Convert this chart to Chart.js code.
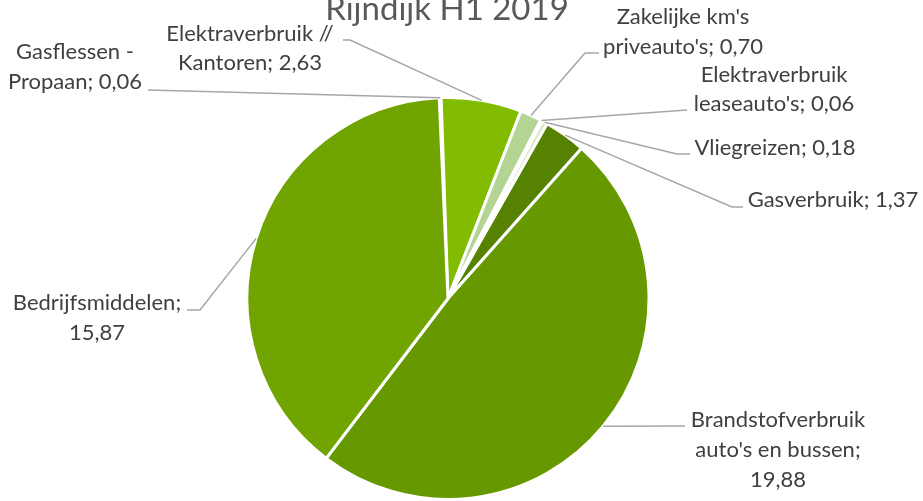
<!DOCTYPE html>
<html>
<head>
<meta charset="utf-8">
<script src="https://cdn.jsdelivr.net/npm/chart.js@4.4.1/dist/chart.umd.min.js"></script>
<style>
  html, body { margin: 0; padding: 0; background: #fff; }
  #wrap { width: 923px; height: 501px; }
</style>
</head>
<body>
<div id="wrap"><canvas id="myChart" width="923" height="501"></canvas></div>
<script>
// data
const categories = [
  'Gasflessen - Propaan',
  'Elektraverbruik // Kantoren',
  "Zakelijke km's priveauto's",
  "Elektraverbruik leaseauto's",
  'Vliegreizen',
  'Gasverbruik',
  "Brandstofverbruik auto's en bussen",
  'Bedrijfsmiddelen'
]
const values = [0.06, 2.63, 0.70, 0.06, 0.18, 1.37, 19.88, 15.87]
const chartTitle = 'Rijndijk H1 2019'

const colors = ['#4f7a00', '#82bc00', '#b4d494', '#c8e2ab', '#d7eac3', '#558200', '#669900', '#70a400']

// label layout: words per line, text centre x, line y's, line start and elbow
const labelLayout = [
  { words: [2, 2], cx: 75, ys: [52, 82], from: [148, 90], elbow: [148, 90] },
  { words: [2, 2], cx: 250, ys: [34, 63], from: [343, 40], elbow: [350, 40] },
  { words: [2, 2], cx: 683, ys: [17, 47], from: [599, 53], elbow: [585, 53] },
  { words: [1, 2], cx: 774, ys: [75, 104], from: [687, 110], elbow: [687, 110] },
  { words: [2], cx: 775, ys: [148], from: [690, 154], elbow: [677, 154] },
  { words: [2], cx: 833, ys: [200], from: [743, 207], elbow: [732, 207] },
  { words: [1, 3, 1], cx: 778, ys: [420, 450, 480], from: [685, 426], elbow: [685, 426] },
  { words: [1, 1], cx: 97, ys: [303, 333], from: [187, 310], elbow: [200, 310] }
]

const fmt = v => v.toFixed(2).replace('.', ',')

function splitLines(text, counts) {
  const words = text.split(' ')
  const out = []
  let i = 0
  counts.forEach(n => {
    out.push(words.slice(i, i + n).join(' '))
    i += n
  })
  if (i < words.length) out[out.length - 1] += ' ' + words.slice(i).join(' ')
  return out
}

// draws title, leader lines and data labels
const labelPlugin = {
  id: 'pieLabels',
  afterDraw(chart) {
    const c = chart.ctx
    const meta = chart.getDatasetMeta(0)
    c.save()

    c.fillStyle = '#595959'
    c.font = '33px Lato'
    c.textAlign = 'center'
    c.textBaseline = 'alphabetic'
    c.fillText(chartTitle, 447, 20)

    meta.data.forEach((arc, i) => {
      const lay = labelLayout[i]
      const p = arc.getProps(['x', 'y', 'startAngle', 'endAngle', 'outerRadius'], true)
      const mid = (p.startAngle + p.endAngle) / 2
      const ex = p.x + Math.cos(mid) * p.outerRadius
      const ey = p.y + Math.sin(mid) * p.outerRadius

      c.strokeStyle = '#a6a6a6'
      c.lineWidth = 1.5
      c.beginPath()
      c.moveTo(lay.from[0], lay.from[1])
      c.lineTo(lay.elbow[0], lay.elbow[1])
      c.lineTo(ex, ey)
      c.stroke()

      const text = categories[i] + '; ' + fmt(values[i])
      const lines = splitLines(text, lay.words)
      c.fillStyle = '#404040'
      c.font = '22px Lato'
      c.textAlign = 'center'
      c.textBaseline = 'middle'
      lines.forEach((ln, k) => c.fillText(ln, lay.cx, lay.ys[k]))
    })
    c.restore()
  }
}

const ctx = document.getElementById('myChart').getContext('2d')

const myChart = new Chart(ctx, {
  type: 'pie',
  data: {
    labels: categories,
    datasets: [{
      data: values,
      backgroundColor: colors,
      borderColor: '#ffffff',
      borderWidth: 3
    }]
  },
  options: {
    responsive: false,
    animation: false,
    rotation: -2.5,
    layout: { padding: { top: 96, bottom: 0, left: 200, right: 227 } },
    plugins: {
      legend: { display: false },
      title: { display: false },
      tooltip: { enabled: false }
    }
  },
  plugins: [labelPlugin]
})
</script>
</body>
</html>
